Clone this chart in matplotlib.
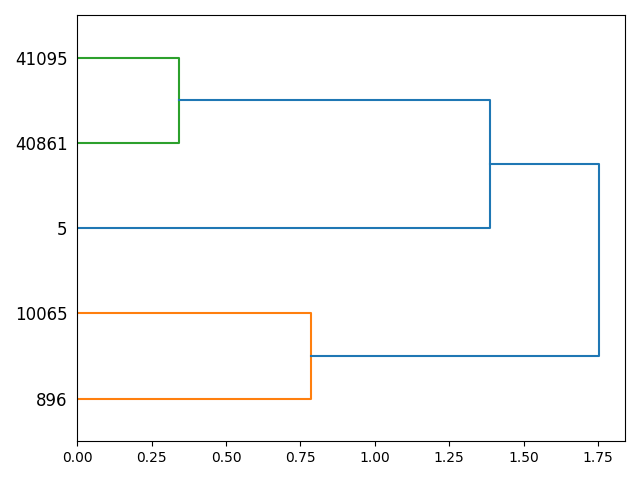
import matplotlib
matplotlib.use("Agg")
import matplotlib.pyplot as plt

# leaves from bottom to top
leaf_labels = ["896", "10065", "5", "40861", "41095"]

# each link: (left child y, right child y, left child dist, right child dist, merge dist, colour)
link_lo = [35, 5, 25, 10]
link_hi = [45, 15, 40, 32.5]
child_lo_dist = [0.0, 0.0, 0.0, 0.786]
child_hi_dist = [0.0, 0.0, 0.343, 1.387]
merge_dist = [0.343, 0.786, 1.387, 1.753]
link_colors = ["C2", "C1", "C0", "C0"]

fig, ax = plt.subplots(figsize=(6.4, 4.8), dpi=100)

for lo, hi, dlo, dhi, d, c in zip(link_lo, link_hi, child_lo_dist,
                                  child_hi_dist, merge_dist, link_colors):
    ax.plot([dlo, d, d, dhi], [lo, lo, hi, hi], color=c)

leaf_pos = [5 + 10 * i for i in range(len(leaf_labels))]
ax.set_yticks(leaf_pos)
ax.set_yticklabels(leaf_labels, size=12)
for line in ax.get_yticklines():
    line.set_visible(False)
ax.set_ylim(0, 10 * len(leaf_labels))
ax.set_xlim(0, max(merge_dist) * 1.05)

fig.tight_layout()
fig.savefig("out.png")
